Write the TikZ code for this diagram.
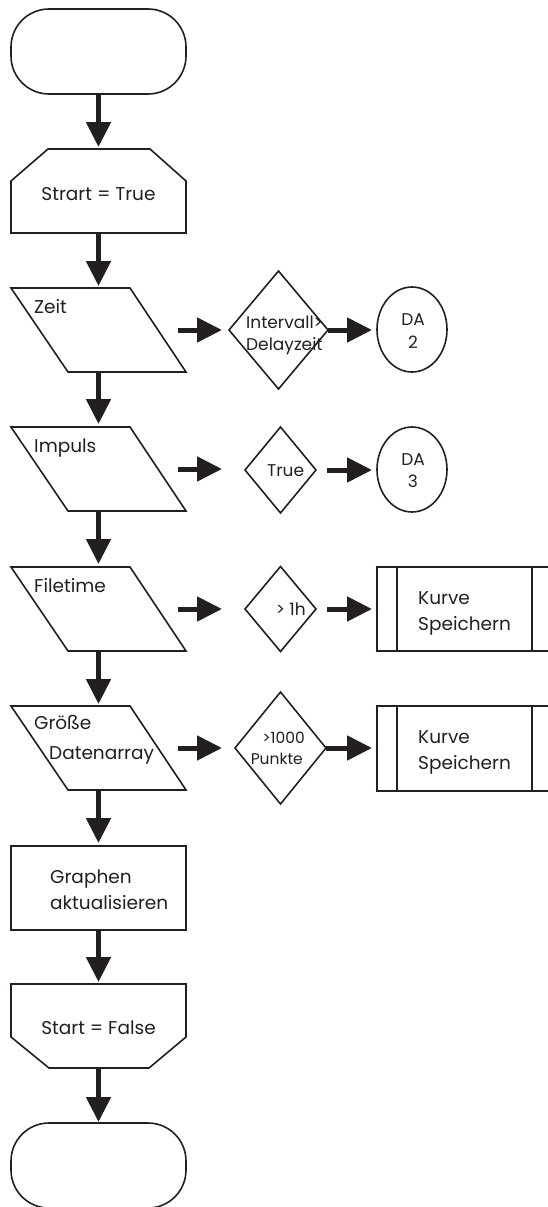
\documentclass[tikz,border=0pt]{standalone}
\usepackage{fontspec}
\setmainfont{Poppins}
\usetikzlibrary{arrows.meta,shapes.geometric}
\definecolor{ink}{HTML}{231F20}
\begin{document}
\begin{tikzpicture}[x=1pt,y=-1pt,line join=miter,
  shp/.style={draw=ink,line width=1.6pt},
  anc/.style={inner sep=0pt,outer sep=0pt,minimum width=175pt,minimum height=84pt},
  term/.style={shp,rounded corners=38pt,inner sep=0pt,outer sep=0pt,minimum width=175pt,minimum height=85pt},
  dia/.style={shp,diamond,inner sep=0pt,outer sep=0pt},
  ell/.style={shp,ellipse,inner sep=0pt,outer sep=0pt,minimum width=70pt,minimum height=85pt},
  flow/.style={draw=ink,line width=5pt,-{Triangle[length=25pt,width=24pt]}},
  big/.style={font=\fontsize{18.5}{22}\selectfont,text=ink,inner sep=0pt},
  small/.style={font=\fontsize{17}{20}\selectfont,text=ink,inner sep=0pt},
  tiny/.style={font=\fontsize{15.5}{18}\selectfont,text=ink,inner sep=0pt}]
\useasboundingbox (0,0) rectangle (548,1207);
\clip (0,0) rectangle (548,1207);
% main column
\node[term] (begin) at (98.5,51.5) {};
\node[anc] (strart) at (98.5,191) {};
\draw[shp] (11,233) -- (11,181) -- (48,149) -- (150,149) -- (186,181) -- (186,233) -- cycle;
\node[anc] (zeit) at (98.5,330) {};
\draw[shp] (11,288) -- (130,288) -- (186,372) -- (68,372) -- cycle;
\node[anc] (impuls) at (98.5,469) {};
\draw[shp] (11,427) -- (130,427) -- (186,511) -- (68,511) -- cycle;
\node[anc] (filetime) at (98.5,609) {};
\draw[shp] (11,567) -- (130,567) -- (186,651) -- (68,651) -- cycle;
\node[anc] (groesse) at (98.5,748) {};
\draw[shp] (11,706) -- (130,706) -- (186,790) -- (68,790) -- cycle;
\node[anc,shp] (graphen) at (98.5,888) {};
\node[anc] (startf) at (98.5,1026) {};
\draw[shp] (11,984) -- (186,984) -- (186,1037) -- (149,1068) -- (49,1068) -- (11,1037) -- cycle;
\node[term] (end) at (98.5,1165.5) {};
% decisions
\node[dia,minimum width=99pt,minimum height=118pt] (d1) at (278.5,330) {};
\node[dia,minimum width=71pt,minimum height=86pt] (d2) at (280.5,470) {};
\node[dia,minimum width=71pt,minimum height=85pt] (d3) at (280.5,609) {};
\node[dia,minimum width=91pt,minimum height=112pt] (d4) at (280.5,748) {};
% connectors
\node[ell] (da2) at (412,329.5) {};
\node[ell] (da3) at (412,469.5) {};
\node[anc,shp] (k1) at (464.5,609) {};
\draw[shp] (397,567) -- (397,651) (532,567) -- (532,651);
\node[anc,shp,minimum height=85pt] (k2) at (464.5,748.5) {};
\draw[shp] (397,706) -- (397,791) (532,706) -- (532,791);
% texts
\node[big,anchor=base] (t1) at (98.5,200) {Strart = True};
\node[big,anchor=base west] (t2) at (34,313) {Zeit};
\node[big,anchor=base west] (t3) at (34,452) {Impuls};
\node[big,anchor=base west] (t4) at (34,592) {Filetime};
\node[big,anchor=base west] (t5) at (34,729) {Größe};
\node[big,anchor=base west] (t6) at (49,759) {Datenarray};
\node[big,anchor=base west] (t7) at (50,883) {Graphen};
\node[big,anchor=base west] (t8) at (50,909) {aktualisieren};
\node[big,anchor=base] (t9) at (98.5,1034) {Start = False};
\node[small,anchor=base west] (t10) at (246,328) {Intervall>};
\node[small,anchor=base west] (t11) at (246,350) {Delayzeit};
\node[small,anchor=base] (t12) at (413,325) {DA};
\node[small,anchor=base] (t13) at (413,348) {2};
\node[small,anchor=base west] (t14) at (267,476) {True};
\node[small,anchor=base] (t15) at (413,465) {DA};
\node[small,anchor=base] (t16) at (413,487) {3};
\node[small,anchor=base east] (t17) at (306,615) {> 1h};
\node[big,anchor=base west] (t18) at (418,604) {Kurve};
\node[big,anchor=base west] (t19) at (418,630) {Speichern};
\node[tiny,anchor=base east] (t20) at (305,743) {>1000};
\node[tiny,anchor=base east] (t21) at (303,764) {Punkte};
\node[big,anchor=base west] (t22) at (418,743) {Kurve};
\node[big,anchor=base west] (t23) at (418,769) {Speichern};
% flow arrows
\draw[flow,shorten >=2pt] (begin.south) -- (strart.north);
\draw[flow,shorten >=2pt] (strart.south) -- (zeit.north);
\draw[flow,shorten >=3pt] (zeit.south) -- (impuls.north);
\draw[flow,shorten >=3pt] (impuls.south) -- (filetime.north);
\draw[flow,shorten >=2pt] (filetime.south) -- (groesse.north);
\draw[flow,shorten >=3pt] (groesse.south) -- (graphen.north);
\draw[flow,shorten >=2pt] (graphen.south) -- (startf.north);
\draw[flow,shorten >=1pt] (startf.south) -- (end.north);
\draw[flow,shorten <=-8pt,shorten >=7pt] (zeit.east) -- (zeit.east -| d1.west);
\draw[flow,shorten <=-8pt,shorten >=23pt] (impuls.east) -- (impuls.east -| d2.west);
\draw[flow,shorten <=-8pt,shorten >=23pt] (filetime.east) -- (filetime.east -| d3.west);
\draw[flow,shorten <=-8pt,shorten >=13pt] (groesse.east) -- (groesse.east -| d4.west);
\draw[flow,shorten >=5pt] (d1.east) -- (d1.east -| da2.west);
\draw[flow,shorten <=11pt,shorten >=5pt] (d2.east) -- (d2.east -| da3.west);
\draw[flow,shorten <=11pt,shorten >=5pt] (d3.east) -- (d3.east -| k1.west);
\draw[flow,shorten >=5pt] (d4.east) -- (d4.east -| k2.west);
\end{tikzpicture}
\end{document}
